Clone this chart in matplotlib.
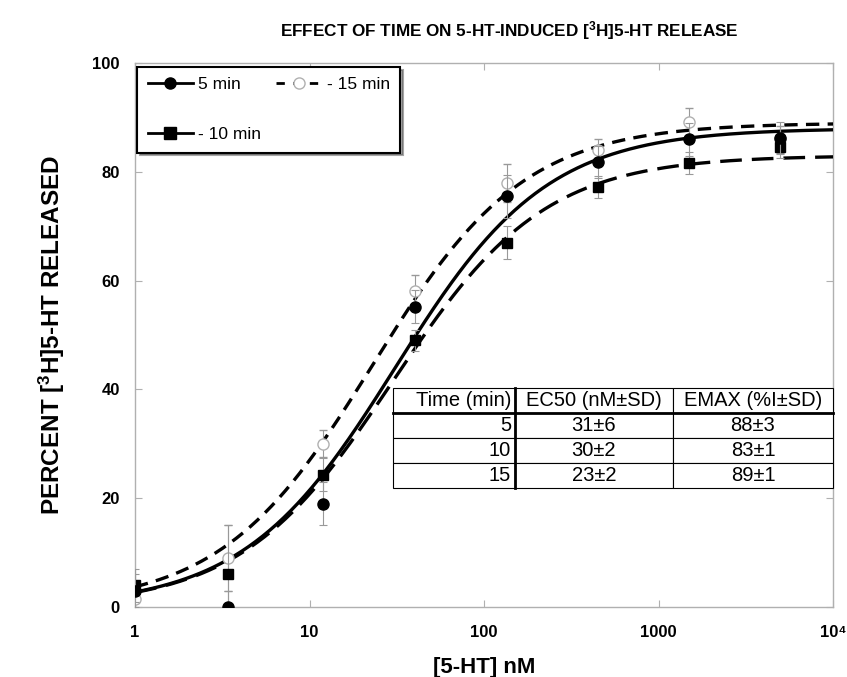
import numpy as np
import matplotlib
matplotlib.use("Agg")
import matplotlib.pyplot as plt
from matplotlib.lines import Line2D

plt.rcParams['font.family'] = ['Liberation Sans', 'DejaVu Sans']
plt.rcParams['mathtext.fontset'] = 'custom'
plt.rcParams['mathtext.rm'] = 'Liberation Sans'
plt.rcParams['mathtext.bf'] = 'Liberation Sans:bold'
plt.rcParams['mathtext.default'] = 'regular'

# concentrations (nM)
conc = [1, 3.4, 12, 40, 135, 450, 1500, 5000]

# percent released
y5 = [3.0, 0.0, 19.0, 55.2, 75.5, 81.8, 86.0, 86.2]
e5 = [3, 3, 4, 3, 4, 3, 3, 3]
y10 = [4.0, 6.0, 24.3, 49.0, 67.0, 77.2, 81.6, 84.5]
e10 = [3, 9, 3, 2, 3, 2, 2, 2]
y15 = [1.5, 9.0, 30.0, 58.0, 78.0, 84.0, 89.2, 86.0]
e15 = [3, 6, 2.5, 3, 3.5, 2, 2.5, 2.5]

# fit parameters from the table
times = ["5", "10", "15"]
ec50 = [31, 30, 23]
emax = [88, 83, 89]
ec50_txt = ["31±6", "30±2", "23±2"]
emax_txt = ["88±3", "83±1", "89±1"]

fig = plt.figure(figsize=(8.47, 6.77), dpi=100)
ax = fig.add_axes([0.1594, 0.1034, 0.8241, 0.8035])

xx = np.logspace(0, 4, 400)
def hill(x, top, half):
    return top * x / (half + x)

gray = '#b0b0b0'
lw = 2.4
ax.plot(xx, hill(xx, emax[0], ec50[0]), color='black', lw=lw, zorder=3)
ax.plot(xx, hill(xx, emax[1], ec50[1]), color='black', lw=lw, dashes=(6.5, 3), zorder=3)
ax.plot(xx, hill(xx, emax[2], ec50[2]), color='black', lw=lw, dashes=(4, 2.5), zorder=3)

ekw = dict(ecolor='#999999', elinewidth=0.8, capsize=3, capthick=0.8, ls='none')
ax.errorbar(conc, y15, yerr=e15, marker='o', ms=8, mfc='white', mec=gray, mew=1, zorder=4, **ekw)
ax.errorbar(conc, y10, yerr=e10, marker='s', ms=7.5, mfc='black', mec='black', zorder=5, **ekw)
ax.errorbar(conc, y5, yerr=e5, marker='o', ms=8, mfc='black', mec='black', zorder=6, **ekw)

ax.set_xscale('log')
ax.set_xlim(1, 1e4)
ax.set_ylim(0, 100)
ax.set_xticks([1, 10, 100, 1000, 10000])
ax.set_xticklabels(['1', '10', '100', '1000', '10\u2074'])
ax.xaxis.set_minor_locator(matplotlib.ticker.NullLocator())
ax.set_yticks([0, 20, 40, 60, 80, 100])
ax.tick_params(direction='in', length=5, color=gray, width=0.8, top=True, right=True,
               labelsize=12)
ax.tick_params(axis='x', pad=13)
ax.tick_params(axis='y', pad=11)
for lab in ax.get_xticklabels() + ax.get_yticklabels():
    lab.set_fontweight('bold')
for sp in ax.spines.values():
    sp.set_color(gray)
    sp.set_linewidth(1)

ax.set_xlabel('[5-HT] nM', fontsize=16, fontweight='bold', labelpad=12)
ax.set_ylabel(r'PERCENT [$^{3}$H]5-HT RELEASED', fontsize=17.5, fontweight='bold', labelpad=18)
fig.text(0.601, 0.955, r'EFFECT OF TIME ON 5-HT-INDUCED [$^{3}$H]5-HT RELEASE',
         ha='center', va='center', fontsize=12.3, fontweight='bold')

handles = [
    Line2D([], [], color='black', lw=2, marker='o', ms=8),
    Line2D([], [], color='black', lw=2, marker='s', ms=8),
    Line2D([], [], color='black', lw=2, dashes=(3, 3), marker='o', ms=8, mfc='white', mec=gray, mew=1),
]
leg = ax.legend(handles, ['5 min', '- 10 min', '- 15 min'], ncol=2, loc='upper left',
                bbox_to_anchor=(0.003, 0.993), fontsize=12.5, frameon=True, fancybox=False,
                shadow=True, labelspacing=2.0, columnspacing=0.9, handlelength=2.6,
                borderpad=0.6, handletextpad=0.3, borderaxespad=0)
leg.get_frame().set_edgecolor('black')
leg.get_frame().set_linewidth(1.5)

# parameter table
rows = [["Time (min)", "EC50 (nM±SD)", "EMAX (%I±SD)"]]
for t, a, b in zip(times, ec50_txt, emax_txt):
    rows.append([t, a, b])
tb_left, tb_bottom, tb_w, tb_h = 0.3696, 0.2188, 0.6304, 0.1838
colw = [0.277, 0.359, 0.364]
tbl = ax.table(cellText=rows, colWidths=colw, cellLoc='center',
               bbox=[tb_left, tb_bottom, tb_w, tb_h], zorder=7)
tbl.auto_set_font_size(False)
for (r, c), cell in tbl.get_celld().items():
    cell.set_facecolor('white')
    cell.set_edgecolor('black')
    cell.set_linewidth(0.8)
    cell.get_text().set_fontsize(14.5)
    if c == 0:
        cell.get_text().set_ha('right')
        cell.PAD = 0.03
        cell._loc = 'right'
# thicker dividers
xdiv = tb_left + colw[0] * tb_w
ax.plot([xdiv, xdiv], [tb_bottom, tb_bottom + tb_h], color='black', lw=2,
        transform=ax.transAxes, zorder=8, clip_on=False)
yhead = tb_bottom + tb_h * 3 / 4
ax.plot([tb_left, tb_left + tb_w], [yhead, yhead], color='black', lw=2,
        transform=ax.transAxes, zorder=8, clip_on=False)

fig.savefig('out.png', dpi=100)
